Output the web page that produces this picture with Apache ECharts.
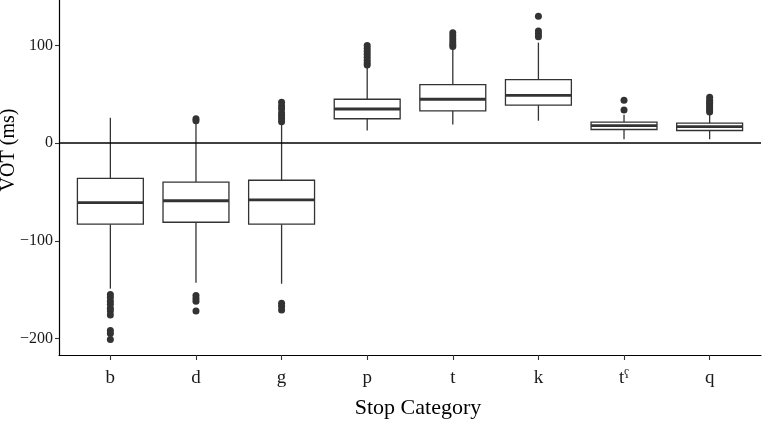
<!DOCTYPE html>
<html>
<head>
<meta charset="utf-8">
<script src="https://cdn.jsdelivr.net/npm/echarts@6/dist/echarts.min.js"></script>
<style>html,body{margin:0;padding:0;background:#fff}#c{width:762px;height:421px}</style>
</head>
<body>
<div id="c"></div>
<script>
const categories = ['b', 'd', 'g', 'p', 't', 'k', 'tˤ', 'q'];
const lowWhisker  = [-149, -143, -144, 13, 19, 23, 4, 4];
const q1          = [-83, -81, -83, 25, 33, 39, 14, 13];
const medians     = [-61, -59, -58, 35, 45, 49, 18, 17];
const q3          = [-36, -40, -38, 45, 60, 65, 21.5, 20.5];
const highWhisker = [26, 20, 19, 78, 97, 103, 29, 31];
const outliers = [
  [-155, -158, -162, -165, -169, -172, -176, -192, -195, -201],
  [23, 25, -156, -159, -162, -172],
  [22, 25, 28, 31, 35, 38, 42, -164, -167, -171],
  [80, 82, 85, 88, 91, 94, 97, 100],
  [99, 101, 104, 107, 110, 113],
  [109, 112, 115, 130],
  [34, 44],
  [32, 34, 36, 38, 40, 42, 44, 47]
];
const yTicks = [-200, -100, 0, 100];

const boxData = categories.map((c, i) => [i, lowWhisker[i], q1[i], medians[i], q3[i], highWhisker[i]]);
const outlierData = [];
outliers.forEach((arr, i) => arr.forEach(v => outlierData.push([i, v])));

const FONT = 'Liberation Serif';
const INK = '#333333';

const chart = echarts.init(document.getElementById('c'), null, {renderer: 'canvas'});
chart.setOption({
  animation: false,
  backgroundColor: '#ffffff',
  grid: {left: 59, right: 1, top: -55, bottom: 66, containLabel: false, outerBoundsMode: 'none'},
  xAxis: {
    type: 'value', min: -0.6, max: 7.6,
    splitLine: {show: false},
    axisLine: {show: true, onZero: false, lineStyle: {color: '#000', width: 1.2}},
    axisTick: {show: true, length: 5, lineStyle: {color: '#333', width: 1.1}, customValues: categories.map((c, i) => i)},
    axisLabel: {
      customValues: categories.map((c, i) => i),
      formatter: v => categories[Math.round(v)] || '',
      color: '#1a1a1a', fontFamily: FONT, fontSize: 19, margin: 14
    },
    name: 'Stop Category', nameLocation: 'middle', nameGap: 42, nameMoveOverlap: false,
    nameTextStyle: {color: '#000', fontFamily: FONT, fontSize: 22, padding: [0, 0, 0, 16]}
  },
  yAxis: {
    type: 'value', min: -217, max: 203,
    splitLine: {show: false},
    axisLine: {show: true, onZero: false, lineStyle: {color: '#000', width: 1.2}},
    axisTick: {show: true, length: 4, lineStyle: {color: '#333', width: 1.1}, customValues: yTicks},
    axisLabel: {customValues: yTicks, formatter: v => String(v).replace('-', '\u2212'),
      color: '#1a1a1a', fontFamily: FONT, fontSize: 16, margin: 6},
    name: 'VOT (ms)', nameLocation: 'middle', nameRotate: 90, nameGap: 40, nameMoveOverlap: false,
    nameTextStyle: {color: '#000', fontFamily: FONT, fontSize: 20}
  },
  series: [
    {
      type: 'custom',
      data: boxData,
      encode: {x: 0, y: [1, 2, 3, 4, 5]},
      z: 3,
      renderItem: function (params, api) {
        const x = api.value(0);
        const pLw = api.coord([x, api.value(1)]);
        const pQ1 = api.coord([x, api.value(2)]);
        const pMed = api.coord([x, api.value(3)]);
        const pQ3 = api.coord([x, api.value(4)]);
        const pHw = api.coord([x, api.value(5)]);
        const bw = api.size([1, 0])[0] * 0.77;
        const cx = pMed[0];
        const stroke = {stroke: INK, lineWidth: 1.3, fill: null};
        return {
          type: 'group',
          children: [
            {type: 'line', shape: {x1: cx, y1: pQ3[1], x2: cx, y2: pHw[1]}, style: stroke},
            {type: 'line', shape: {x1: cx, y1: pQ1[1], x2: cx, y2: pLw[1]}, style: stroke},
            {type: 'rect', shape: {x: cx - bw / 2, y: pQ3[1], width: bw, height: pQ1[1] - pQ3[1]},
              style: {stroke: INK, lineWidth: 1.3, fill: '#ffffff'}},
            {type: 'line', shape: {x1: cx - bw / 2, y1: pMed[1], x2: cx + bw / 2, y2: pMed[1]},
              style: {stroke: INK, lineWidth: 2.8}}
          ]
        };
      }
    },
    {
      type: 'scatter',
      data: outlierData,
      symbol: 'circle',
      symbolSize: 7,
      z: 4,
      itemStyle: {color: INK, opacity: 1},
      markLine: {
        silent: true,
        symbol: 'none',
        label: {show: false},
        lineStyle: {color: '#000', width: 1.6, type: 'solid'},
        data: [{yAxis: 0}]
      }
    }
  ]
});
</script>
</body>
</html>
